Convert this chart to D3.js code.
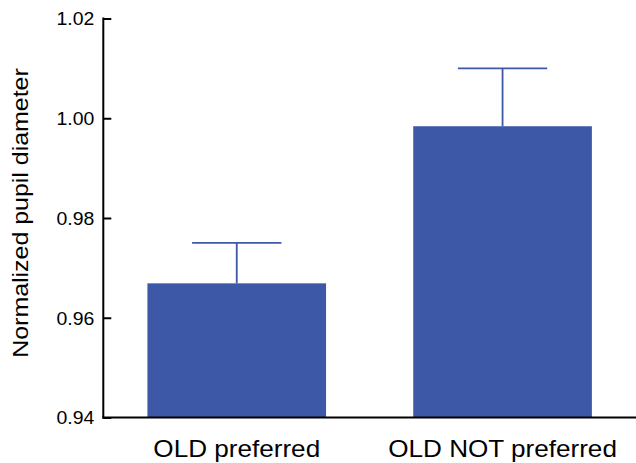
<!DOCTYPE html>
<html><head><meta charset="utf-8">
<script src="https://cdn.jsdelivr.net/npm/d3@7"></script>
<style>body{margin:0;background:#fff}svg{display:block}text{font-family:"Liberation Sans",Arial,sans-serif;fill:#000}</style>
</head><body>
<script>
const categories = ["OLD preferred", "OLD NOT preferred"];
const means = [0.9669, 0.9984];
const errors = [0.0081, 0.0116];
const yTicks = [0.94, 0.96, 0.98, 1.00, 1.02];
const yLabel = "Normalized pupil diameter";

const W = 636, H = 463;
const svg = d3.select("body").append("svg").attr("width", W).attr("height", H);
const x0 = 103.3, x1 = 636, yTop = 18.5, yBot = 417.5;
const x = d3.scaleBand().domain(categories).range([x0, x1]).paddingInner(0.328).paddingOuter(0.166);
const y = d3.scaleLinear().domain([0.94, 1.02]).range([yBot, yTop]);
const color = "#3c58a6";
const FONT = '"Liberation Sans",Arial,sans-serif';

const g = svg.append("g");
g.selectAll("rect.bar").data(categories).enter().append("rect")
  .attr("x", d => x(d)).attr("width", x.bandwidth())
  .attr("y", (d, i) => y(means[i])).attr("height", (d, i) => yBot - y(means[i]))
  .attr("fill", color);

const eb = g.selectAll("g.eb").data(categories).enter().append("g");
eb.append("line")
  .attr("x1", d => x(d) + x.bandwidth() / 2).attr("x2", d => x(d) + x.bandwidth() / 2)
  .attr("y1", (d, i) => y(means[i])).attr("y2", (d, i) => y(means[i] + errors[i]))
  .attr("stroke", color).attr("stroke-width", 1.8);
eb.append("line")
  .attr("x1", d => x(d) + x.bandwidth() / 4).attr("x2", d => x(d) + x.bandwidth() * 3 / 4)
  .attr("y1", (d, i) => y(means[i] + errors[i])).attr("y2", (d, i) => y(means[i] + errors[i]))
  .attr("stroke", color).attr("stroke-width", 1.8);

const yAxis = d3.axisRight(y).tickValues(yTicks).tickSize(8).tickFormat(d3.format(".2f"));
const ya = svg.append("g").attr("transform", `translate(${x0},0)`).call(yAxis);
ya.select(".domain").remove();
ya.selectAll(".tick line").attr("stroke", "#000").attr("stroke-width", 2);
ya.selectAll(".tick text").attr("x", -9 / 1.08).attr("text-anchor", "end").attr("dy", "0.35em")
  .attr("transform", "scale(1.08,1)")
  .style("font-size", "18px").style("font-family", FONT);
svg.append("line").attr("x1", x0).attr("x2", x0).attr("y1", y(1.02) - 1).attr("y2", yBot + 1)
  .attr("stroke", "#000").attr("stroke-width", 2);

const xAxis = d3.axisBottom(x).tickSize(0).tickPadding(0);
const xa = svg.append("g").attr("transform", `translate(0,${yBot})`).call(xAxis);
xa.select(".domain").remove();
xa.selectAll(".tick text").attr("y", 40).attr("dy", 0)
  .attr("transform", "scale(1.135,1)")
  .style("font-size", "23px").style("font-family", FONT);
svg.append("line").attr("x1", x0 - 1).attr("x2", x1).attr("y1", yBot).attr("y2", yBot)
  .attr("stroke", "#000").attr("stroke-width", 2);

svg.append("text").attr("transform", `translate(27.5,${(68 + 358) / 2}) rotate(-90) scale(1.16,1)`)
  .attr("text-anchor", "middle").style("font-size", "21.5px").style("font-family", FONT)
  .text(yLabel);
</script>
</body></html>
